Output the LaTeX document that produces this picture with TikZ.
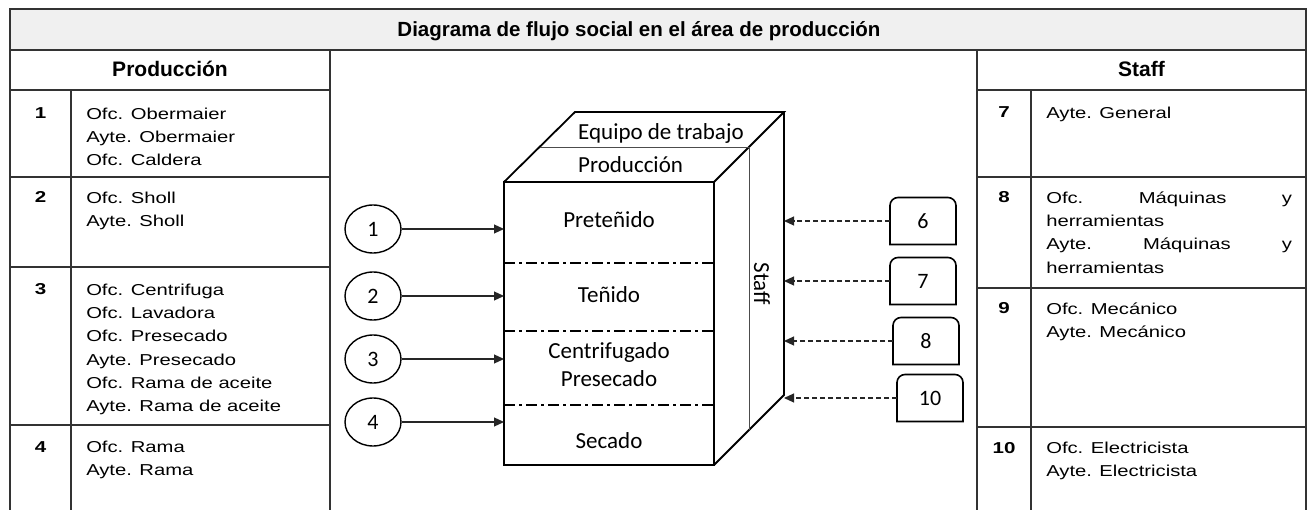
\documentclass[tikz,border=0pt]{standalone}
\usepackage{fontspec}
\setmainfont{Liberation Sans}
\newfontfamily\calibri{Carlito}
\usetikzlibrary{arrows.meta,shapes.geometric,calc}
\tikzset{
  tabline/.style={line width=1.4pt, draw=black!80},
  maintitle/.style={font=\fontsize{20.5}{24}\selectfont\bfseries, anchor=base, inner sep=0pt},
  colhead/.style={font=\fontsize{21}{24}\selectfont\bfseries, anchor=base, inner sep=0pt},
  num/.style={font=\fontsize{15.8}{23.3}\selectfont\bfseries, xscale=1.3, anchor=base, inner sep=0pt},
  cell/.style={font=\fontsize{15.8}{23.3}\selectfont, xscale=1.28, anchor=north west, align=left, inner sep=0pt},
  cube/.style={line width=1.8pt},
  boxtxt/.style={font=\calibri\fontsize{23}{28}\selectfont, anchor=base, inner sep=0pt},
  dashdot/.style={line width=1.6pt, dash pattern=on 11pt off 4pt on 3pt off 4pt},
  entry/.style={ellipse, draw, line width=1.4pt, minimum width=56pt, minimum height=48pt, inner sep=0pt, font=\calibri\fontsize{22}{26}\selectfont},
  staffbox/.style={minimum width=66pt, minimum height=47pt, inner sep=0pt, outer sep=0pt, font=\calibri\fontsize{22}{26}\selectfont},
  staffedge/.style={line width=1.6pt, line join=miter},
  inflow/.style={-{Triangle[length=10pt,width=9pt]}, line width=1.1pt, black!85},
  support/.style={-{Triangle[length=10pt,width=9pt]}, line width=1.1pt, black!85, dash pattern=on 5pt off 3pt}
}

\begin{document}
\begin{tikzpicture}[x=1pt,y=-1pt]
\useasboundingbox (0,0) rectangle (1309,510);

% frame and title row
\fill[black!6] (10,9) rectangle (1306,50);
\draw[tabline] (10,510) -- (10,9) -- (1306,9) -- (1306,510);
\draw[tabline] (10,50) -- (1306,50);
\node[maintitle] (titulo) at (639,37) {Diagrama de flujo social en el área de producción};

% Production table
\draw[tabline] (330,50) -- (330,510);
\draw[tabline] (71,90) -- (71,510);
\foreach \y in {90,177,267,425} \draw[tabline] (10,\y) -- (330,\y);
\node[colhead] (prodhead) at (170,77) {Producción};

\foreach \n/\y in {1/119,2/203,3/295,4/452} \node[num] (pn\n) at (40.5,\y) {\n};
\node[cell] (p1) at (86,107.5) {Ofc. Obermaier\\Ayte. Obermaier\\Ofc. Caldera};
\node[cell] (p2) at (86,191.5) {Ofc. Sholl\\Ayte. Sholl};
\node[cell] (p3) at (86,283.5) {Ofc. Centrifuga\\Ofc. Lavadora\\Ofc. Presecado\\Ayte. Presecado\\Ofc. Rama de aceite\\Ayte. Rama de aceite};
\node[cell] (p4) at (86,440.5) {Ofc. Rama\\Ayte. Rama};

% Staff table
\draw[tabline] (977,50) -- (977,510);
\draw[tabline] (1031,90) -- (1031,510);
\foreach \y in {90,177,288,427} \draw[tabline] (977,\y) -- (1306,\y);
\node[colhead] (staffhead) at (1141.5,77) {Staff};

\foreach \n/\y in {7/118,8/203,9/314,10/453} \node[num] (sn\n) at (1004,\y) {\n};
\node[cell] (s7) at (1046,106.5) {Ayte. General};
\node[cell, text width=192pt] (s8) at (1046,191.5) {Ofc.\hfill Máquinas\hfill y\\herramientas\\Ayte.\hfill Máquinas\hfill y\\herramientas};
\node[cell] (s9) at (1046,302.5) {Ofc. Mecánico\\Ayte. Mecánico};
\node[cell] (s10) at (1046,441.5) {Ofc. Electricista\\Ayte. Electricista};

% work team block
\node[cube, draw, minimum width=210pt, minimum height=283pt, inner sep=0pt, outer sep=0pt] (front) at (609,323.5) {};
\coordinate (bl) at (575,112);
\coordinate (br) at (784,112);
\coordinate (bb) at (784,395);
\draw[cube] (front.north west) -- (bl) -- (br) -- (front.north east);
\draw[cube] (br) -- (bb) -- (front.south east);
\draw[line width=0.8pt, black!70] ($(front.north west)!0.5!(bl)$) -- ($(front.north east)!0.5!(br)$) -- ($(front.south east)!0.5!(bb)$);
\foreach \y in {263,331,405} \draw[dashdot] (front.west |- 0,\y) -- (front.east |- 0,\y);

\node[boxtxt, anchor=base west] (equipo) at (578,140) {Equipo de trabajo};
\node[boxtxt, anchor=base west] (prodtop) at (578,173) {Producción};
\node[boxtxt] (etapa1) at (609,228) {Preteñido};
\node[boxtxt] (etapa2) at (609,303) {Teñido};
\node[boxtxt] (etapa3a) at (609,359) {Centrifugado};
\node[boxtxt] (etapa3b) at (609,387) {Presecado};
\node[boxtxt] (etapa4) at (609,448) {Secado};
\node[boxtxt, rotate=-90, anchor=center] (stafflbl) at (762,284) {Staff};

% production inputs
\foreach \n/\y in {1/229,2/296,3/359,4/422} {
  \node[entry] (c\n) at (373,\y) {\n};
  \draw[inflow] (c\n) -- (c\n -| front.west);
}

% staff inputs
\foreach \n/\x/\y in {6/923/221,7/923/281,8/926/341,10/930/398} {
  \node[staffbox] (r\n) at (\x,\y) {\n};
  \draw[staffedge] (r\n.south west) -- ([yshift=-8pt]r\n.north west)
    arc[start angle=180, end angle=90, radius=8pt] -- ([xshift=-8pt]r\n.north east)
    arc[start angle=90, end angle=0, radius=8pt] -- (r\n.south east) -- cycle;
  \draw[support] (r\n.west) -- (r\n.west -| br);
}

\end{tikzpicture}
\end{document}
